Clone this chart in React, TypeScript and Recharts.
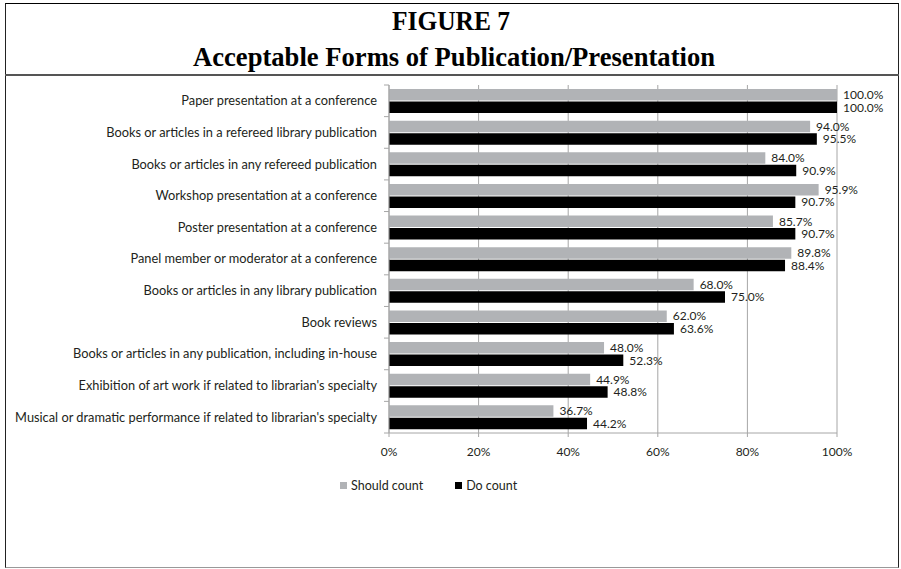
import React from 'react'
import {
  BarChart,
  Bar,
  XAxis,
  YAxis,
  CartesianGrid,
  LabelList,
} from 'recharts'

const CATEGORIES = [
  'Paper presentation at a conference',
  'Books or articles in a refereed library publication',
  'Books or articles in any refereed publication',
  'Workshop presentation at a conference',
  'Poster presentation at a conference',
  'Panel member or moderator at a conference',
  'Books or articles in any library publication',
  'Book reviews',
  'Books or articles in any publication, including in-house',
  "Exhibition of art work if related to librarian's specialty",
  "Musical or dramatic performance if related to librarian's specialty",
]

const SHOULD_COUNT = [100.0, 94.0, 84.0, 95.9, 85.7, 89.8, 68.0, 62.0, 48.0, 44.9, 36.7]
const DO_COUNT = [100.0, 95.5, 90.9, 90.7, 90.7, 88.4, 75.0, 63.6, 52.3, 48.8, 44.2]

const X_TICKS = [0, 20, 40, 60, 80, 100]

const SERIES = [
  { key: 'should', name: 'Should count', color: '#b1b3b6' },
  { key: 'doCount', name: 'Do count', color: '#000000' },
]

const data = CATEGORIES.map((name, i) => ({
  name,
  should: SHOULD_COUNT[i],
  doCount: DO_COUNT[i],
}))

const FONT = 'Lato, "Open Sans", sans-serif'
const AXIS_GRAY = '#a6a6a6'

// category tick: label plus a short mark on the band boundaries like Excel
function CategoryTick(props: any) {
  const { x, y, payload, index } = props
  const half = payload && payload.offset ? payload.offset : 0
  const last = index === CATEGORIES.length - 1
  return (
    <g>
      <line x1={x + 1} x2={x + 6} y1={y - half} y2={y - half} stroke={AXIS_GRAY} />
      {last && <line x1={x + 1} x2={x + 6} y1={y + half} y2={y + half} stroke={AXIS_GRAY} />}
      <text
        x={x - 6}
        y={y}
        dy="0.35em"
        textAnchor="end"
        fontSize={12.8}
        fontFamily={FONT}
        fill="#231f20"
      >
        {payload.value}
      </text>
    </g>
  )
}

export default function App() {
  return (
    <div
      style={{
        position: 'absolute',
        left: 0,
        top: 0,
        width: 901,
        height: 569,
        background: '#fff',
      }}
    >
      {/* frame */}
      <div
        style={{
          position: 'absolute',
          left: 5,
          top: 3,
          width: 894,
          height: 565,
          borderTop: '1.5px solid #000',
          borderLeft: '1.5px solid #222',
          borderRight: '1.5px solid #222',
          borderBottom: '1.5px solid #999',
          boxSizing: 'border-box',
        }}
      />
      <div
        style={{
          position: 'absolute',
          left: 5,
          top: 74,
          width: 894,
          height: 2,
          background: '#555',
        }}
      />
      <svg
        width={901}
        height={80}
        style={{ position: 'absolute', left: 0, top: 0 }}
      >
        <text
          x={451}
          y={30}
          textAnchor="middle"
          fontFamily='"Liberation Serif", "Times New Roman", serif'
          fontWeight="bold"
          fontSize={27}
          textLength={118}
          lengthAdjust="spacingAndGlyphs"
        >
          FIGURE 7
        </text>
        <text
          x={454}
          y={66}
          textAnchor="middle"
          fontFamily='"Liberation Serif", "Times New Roman", serif'
          fontWeight="bold"
          fontSize={27}
          textLength={522}
          lengthAdjust="spacingAndGlyphs"
        >
          Acceptable Forms of Publication/Presentation
        </text>
      </svg>

      <div style={{ position: 'absolute', left: 0, top: 0 }}>
        <BarChart
          width={901}
          height={569}
          data={data}
          layout="vertical"
          margin={{ top: 85, right: 64, left: 0, bottom: 106 }}
          barGap={1}
          barSize={11.5}
        >
          <CartesianGrid horizontal={false} stroke={AXIS_GRAY} />
          <XAxis
            type="number"
            domain={[0, 100]}
            ticks={X_TICKS}
            tickFormatter={(v) => `${v}%`}
            height={30}
            tickSize={4}
            tickMargin={10}
            stroke={AXIS_GRAY}
            tick={{ fontSize: 12, fontFamily: FONT, fill: '#231f20' }}
            interval={0}
          />
          <YAxis
            type="category"
            dataKey="name"
            width={389}
            tickLine={false}
            tickSize={6}
            stroke={AXIS_GRAY}
            tick={<CategoryTick />}
            tickMargin={0}
            interval={0}
          />
          {SERIES.map((s) => (
            <Bar
              key={s.key}
              dataKey={s.key}
              name={s.name}
              fill={s.color}
              isAnimationActive={false}
            >
              <LabelList
                dataKey={s.key}
                position="right"
                offset={6}
                formatter={(v: any) => `${Number(v).toFixed(1)}%`}
                style={{ fontSize: 12, fontFamily: FONT, fill: '#231f20' }}
              />
            </Bar>
          ))}
        </BarChart>
      </div>

      {/* legend */}
      <div
        style={{
          position: 'absolute',
          left: 340,
          top: 478,
          display: 'flex',
          alignItems: 'center',
          fontFamily: FONT,
          fontSize: 12.5,
          color: '#231f20',
        }}
      >
        {SERIES.map((s, i) => (
          <div
            key={s.key}
            style={{
              display: 'flex',
              alignItems: 'center',
              marginRight: i === 0 ? 32 : 0,
            }}
          >
            <span
              style={{
                display: 'inline-block',
                width: 7,
                height: 7,
                background: s.color,
                marginRight: 4,
              }}
            />
            <span>{s.name}</span>
          </div>
        ))}
      </div>
    </div>
  )
}
